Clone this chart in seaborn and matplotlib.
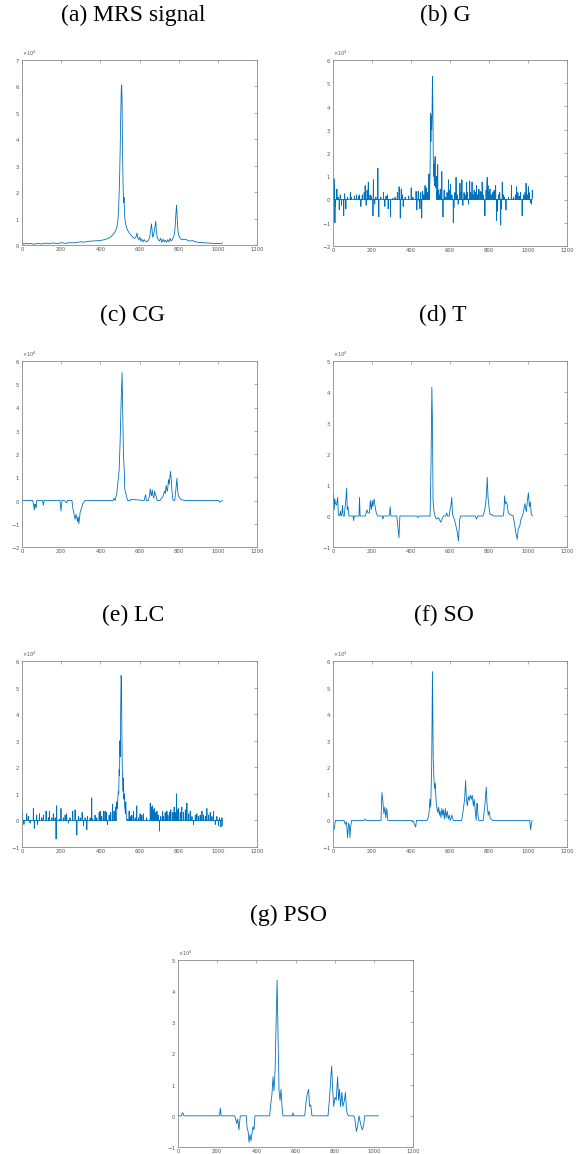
import numpy as np
import pandas as pd
import matplotlib
matplotlib.use("Agg")
import matplotlib.pyplot as plt
from matplotlib.ticker import ScalarFormatter, MultipleLocator
import seaborn as sns

# ---------------- data (values in units of 1e4) -------------
titles = ["(a) MRS signal", "(b) G", "(c) CG", "(d) T", "(e) LC", "(f) SO", "(g) PSO"]
ylims = [(0, 7), (-2, 6), (-2, 6), (-1, 5), (-1, 6), (-1, 6), (-1, 5)]
xticks = [0, 200, 400, 600, 800, 1000, 1200]

# (a) MRS signal: vertices
mrs_x = [1, 10, 20, 30, 45, 60, 80, 100, 120, 140, 160, 180, 200, 220, 240, 260, 280, 300,
         320, 340, 360, 380, 400, 420, 440, 455, 465, 475, 484, 490, 494, 498, 501, 504, 507,
         509, 511, 513, 516, 519, 521, 524, 528, 534, 540, 548, 556, 565, 575, 582, 587, 592,
         597, 602, 607, 612, 618, 624, 630, 638, 646, 652, 657, 661, 664, 667, 671, 676, 680,
         683, 686, 690, 696, 702, 708, 714, 720, 726, 732, 738, 744, 750, 756, 762, 768, 774,
         779, 783, 786, 789, 791, 794, 797, 801, 806, 812, 820, 830, 840, 850, 860, 870, 880,
         890, 900, 920, 940, 960, 980, 1000, 1012, 1024]
mrs_y = [0.08, 0.03, 0.07, 0.04, 0.06, 0.03, 0.06, 0.04, 0.07, 0.05, 0.08, 0.05, 0.09, 0.06,
         0.09, 0.08, 0.1, 0.12, 0.11, 0.14, 0.15, 0.16, 0.17, 0.2, 0.25, 0.32, 0.4, 0.5, 0.65,
         0.95, 1.5, 2.4, 3.5, 4.8, 5.9, 6.05, 5.4, 3.8, 2.3, 1.6, 1.8, 1.1, 0.85, 0.65, 0.55,
         0.45, 0.38, 0.3, 0.25, 0.3, 0.45, 0.25, 0.2, 0.3, 0.15, 0.22, 0.12, 0.2, 0.15, 0.12,
         0.18, 0.3, 0.55, 0.8, 0.6, 0.3, 0.35, 0.55, 0.75, 0.9, 0.55, 0.3, 0.2, 0.15, 0.25, 0.1,
         0.22, 0.12, 0.18, 0.1, 0.2, 0.12, 0.25, 0.15, 0.22, 0.3, 0.45, 0.8, 1.2, 1.5, 1.3, 0.8,
         0.5, 0.35, 0.28, 0.22, 0.2, 0.22, 0.2, 0.16, 0.15, 0.17, 0.13, 0.12, 0.1, 0.09, 0.08,
         0.07, 0.06, 0.06, 0.05, 0.08]

# (b) G: spike positions and heights (baseline 0 between them)
g_pos = [5, 7, 10, 13, 20, 26, 32, 37, 44, 55, 60, 66, 75, 89, 95, 110, 120, 130, 136, 143,
         150, 160, 165, 170, 175, 181, 190, 197, 205, 207, 214, 220, 230, 235, 245, 259, 266,
         272, 279, 283, 295, 305, 318, 330, 339, 345, 350, 355, 360, 370, 388, 401, 410, 426,
         430, 437, 442, 446, 450, 455, 460, 466, 472, 478, 485, 492, 496, 498, 500, 502, 504,
         506, 508, 510, 512, 514, 516, 518, 520, 522, 524, 526, 528, 530, 533, 537, 540, 545,
         550, 558, 564, 570, 578, 585, 592, 597, 603, 610, 617, 620, 625, 631, 637, 642, 651,
         656, 661, 666, 672, 678, 685, 690, 695, 701, 706, 713, 718, 724, 730, 736, 742, 748,
         755, 760, 765, 770, 779, 785, 789, 791, 795, 800, 805, 812, 820, 826, 834, 839, 844,
         850, 855, 860, 864, 868, 875, 880, 887, 900, 915, 925, 935, 941, 948, 955, 962, 970,
         978, 985, 990, 996, 1002, 1006, 1012, 1018, 1022, 1024]
g_val = [0.9, 0.3, -1.0, -0.3, 0.45, 0.1, -0.45, 0.2, -0.25, -0.7, 0.25, -0.4, 0.1, 0.3, 0.1,
         0.15, 0.2, 0.15, 0.2, -0.3, 0.2, 0.3, 0.6, -0.25, 0.4, 0.75, 0.2, 0.15, -0.7, 0.85,
         -0.2, 0.1, 1.35, -0.75, 0.1, 0.3, -0.3, 0.15, 0.2, -0.4, -0.75, 0.05, 0.1, 0.3, 0.55,
         -0.8, 0.45, 0.2, -0.3, 0.1, 0.15, 0.5, 0.1, 0.35, -0.45, 0.35, -0.1, -0.4, 0.3, -0.8,
         0.35, 0.2, 0.6, 0.5, 0.3, 1.1, 0.6, 1.2, 3.7, 2.5, 3.6, 3.0, 3.8, 5.3, 4.2, 2.0, 1.0,
         1.5, 0.6, 1.6, 1.85, 0.9, 0.5, 1.0, 0.3, 1.5, 0.4, 0.2, 0.45, 1.2, -0.75, 0.4, 0.1,
         0.3, 0.85, 0.4, 0.65, 0.2, -1.0, -0.35, 0.3, 0.95, 0.2, -0.2, 0.7, 0.3, 0.85, -0.25,
         0.3, 0.2, 0.75, 0.3, -0.2, 0.8, 0.3, 0.75, 0.2, 0.4, 0.3, 0.6, 0.2, 0.45, 0.35, 0.3,
         0.75, 0.2, -0.7, 0.4, 0.7, 0.95, 0.6, 0.3, 0.45, 0.2, 0.3, 0.4, 0.6, -0.9, -0.5, 0.2,
         0.3, -1.1, -0.4, 0.75, 0.2, 0.1, -0.45, 0.1, 0.6, 0.1, 0.2, 0.55, 0.3, 0.15, 0.3,
         -0.7, 0.2, 0.3, 0.7, 0.2, 0.55, 0.3, -0.15, -0.2, 0.4, 0.1]

# (c) CG: vertices
cg_x = [1, 55, 60, 63, 66, 69, 72, 75, 105, 109, 113, 194, 199, 204, 215, 228, 232, 255, 259,
        265, 271, 276, 280, 283, 287, 290, 294, 297, 301, 305, 310, 314, 322, 465, 470, 475,
        484, 490, 496, 501, 506, 511, 514, 518, 522, 525, 529, 532, 539, 552, 556, 624, 628,
        631, 635, 645, 651, 655, 658, 661, 665, 668, 673, 677, 680, 686, 690, 706, 712, 719,
        724, 728, 732, 736, 740, 743, 748, 752, 758, 762, 765, 770, 774, 780, 786, 791, 795,
        799, 810, 830, 1004, 1010, 1016, 1024]
cg_y = [0, 0, -0.25, -0.4, -0.15, -0.2, -0.3, 0, 0, -0.2, 0, 0, -0.45, 0, 0, -0.1, 0, 0, -0.3,
        -0.55, -0.8, -0.6, -0.75, -0.9, -0.7, -1.0, -0.75, -0.5, -0.4, -0.3, -0.15, -0.1, 0, 0,
        0.1, 0, 0.3, 0.8, 1.3, 2.5, 4.2, 5.5, 4.0, 2.0, 1.3, 0.5, 0.3, 0.25, 0, 0, 0.05, 0, 0.15,
        0.25, 0, 0, 0.2, 0.5, 0.3, 0.2, 0.45, 0.25, 0.1, 0.4, 0.3, 0.15, 0, 0, 0.1, 0.15, 0.3,
        0.4, 0.3, 0.65, 0.45, 0.4, 0.9, 0.7, 1.25, 0.9, 0.5, 0.05, 0, 0, 0.5, 0.95, 0.4, 0.2,
        0.05, 0, 0, -0.08, -0.03, 0]

# (d) T: vertices
t_x = [1, 3, 6, 9, 13, 18, 24, 27, 31, 36, 38, 41, 46, 49, 52, 58, 62, 65, 70, 73, 77, 82,
       103, 106, 109, 133, 136, 139, 165, 170, 174, 179, 187, 191, 196, 201, 204, 208, 211,
       216, 222, 229, 253, 256, 260, 286, 290, 293, 297, 327, 332, 338, 343, 430, 436, 441,
       498, 503, 507, 510, 513, 518, 520, 525, 531, 541, 552, 559, 566, 578, 583, 587, 596,
       600, 605, 609, 613, 622, 630, 638, 643, 650, 655, 730, 736, 742, 770, 776, 783, 787,
       791, 795, 800, 805, 815, 822, 873, 877, 880, 884, 889, 894, 899, 907, 924, 932, 938,
       945, 950, 957, 964, 971, 976, 980, 984, 989, 992, 996, 1002, 1007, 1012, 1017, 1023]
t_y = [0.65, 0.7, 0.2, 0.55, 0.4, 0.35, 0.6, 0.1, 0, 0.05, 0.15, 0, 0.1, 0.35, 0, 0, 0.3,
       0.45, 0.9, 0.2, 0.3, 0, 0, -0.15, 0, 0, 0.6, 0, 0, 0.1, 0.2, 0.1, 0.1, 0.5, 0.2, 0.5,
       0.3, 0.45, 0.55, 0.3, 0.1, 0, 0, -0.1, 0, 0, 0.05, 0.3, 0, 0, -0.3, -0.7, 0, 0, -0.05,
       0, 0, 1.8, 4.15, 3.0, 0.5, 0.15, 0.1, -0.05, -0.1, -0.05, -0.2, -0.1, 0, 0, 0.1, 0,
       0, 0.2, 0.35, 0.6, 0.05, -0.1, -0.3, -0.55, -0.8, -0.1, 0, 0, -0.1, 0, 0, 0.15, 0.4,
       0.7, 1.25, 0.6, 0.3, 0.05, 0.05, 0, 0, 0.2, 0.65, 0.4, 0.45, 0.35, 0.1, 0.05, 0, -0.3,
       -0.55, -0.75, -0.4, -0.35, -0.1, 0, 0.1, 0.25, 0.4, 0.2, 0.15, 0.45, 0.75, 0.3, 0.45,
       0.05, 0]

# (e) LC: spike positions and heights (peak region sampled every 2 points)
lc_pos = [3, 10, 24, 32, 41, 58, 63, 75, 80, 89, 101, 109, 123, 135, 140, 152, 160, 169, 174,
          177, 191, 199, 211, 220, 228, 237, 245, 259, 271, 280, 288, 297, 307, 314, 322, 331,
          334, 348, 356, 361, 373, 382, 394, 399, 407, 416, 424, 430, 436, 445, 453, 462, 470,
          477, 484, 486, 488, 490, 492, 494, 496, 498, 500, 502, 504, 506, 508, 510, 512, 514,
          516, 518, 520, 522, 524, 526, 528, 530, 532, 534, 540, 547, 552, 561, 569, 578, 586,
          595, 603, 612, 620, 637, 655, 660, 665, 672, 677, 684, 689, 695, 702, 709, 718, 723,
          731, 740, 745, 753, 760, 770, 777, 782, 789, 794, 799, 808, 816, 825, 834, 842, 851,
          859, 868, 876, 885, 893, 902, 910, 919, 927, 936, 944, 953, 961, 970, 978, 987, 995,
          1004, 1009, 1016, 1021, 1024]
lc_val = [0.3, -0.15, 0.25, 0.15, -0.1, 0.45, -0.3, 0.2, -0.15, 0.25, 0.1, 0.2, 0.35, 0.1,
          0.35, 0.1, 0.25, 0.1, -0.7, 0.55, 0.05, 0.45, 0.1, 0.2, 0.25, -0.1, 0.1, 0.35, 0.4,
          -0.55, 0.15, 0.1, 0.3, -0.2, 0.1, -0.35, 0.15, 0.1, 0.85, 0.05, 0.2, 0.1, 0.3, 0.35,
          0.15, 0.35, 0.35, 0.3, -0.15, 0.2, 0.3, 0.6, 0.35, 0.5, 0.7, 0.45, 0.6, 0.9, 1.1, 1.0,
          1.9, 1.7, 3.0, 2.4, 4.2, 5.45, 5.3, 3.2, 2.0, 1.6, 1.1, 1.6, 0.8, 1.0, 0.55, 0.4,
          0.25, 0.7, 0.3, 0.1, 0.05, 0.35, 0.15, 0.2, 0.35, 0.1, 0.55, 0.1, 0.25, 0.2, 0.25,
          0.1, 0.65, 0.5, 0.55, 0.4, 0.45, 0.3, 0.35, 0.2, -0.4, 0.15, 0.35, 0.15, 0.3, 0.35,
          0.2, 0.3, 0.4, 0.3, 0.5, 0.3, 1.0, 0.4, 0.45, 0.3, 0.5, 0.3, 0.4, 0.65, 0.25, 0.35,
          0.15, -0.15, 0.2, 0.25, 0.15, 0.2, 0.35, 0.2, 0.15, 0.45, 0.2, 0.3, 0.15, 0.35,
          -0.15, 0.15, -0.2, 0.1, -0.25, 0.1, -0.2]

# (f) SO: vertices
so_x = [1, 5, 8, 12, 57, 63, 69, 75, 80, 84, 87, 90, 95, 160, 165, 170, 246, 251, 256, 261,
        266, 271, 276, 281, 400, 406, 410, 418, 424, 428, 482, 488, 493, 497, 501, 506, 510,
        514, 518, 521, 525, 528, 532, 537, 542, 546, 549, 554, 558, 563, 566, 571, 576, 580,
        586, 591, 596, 601, 606, 610, 617, 660, 668, 675, 680, 684, 689, 694, 699, 704, 710,
        714, 720, 724, 729, 734, 738, 740, 744, 748, 753, 770, 778, 786, 790, 796, 801, 806,
        811, 818, 1009, 1013, 1017, 1021]
so_y = [-0.3, -0.35, -0.25, 0, 0, -0.15, -0.05, -0.65, -0.1, -0.2, -0.65, -0.3, 0, 0, 0.05,
        0, 0, 1.05, 0.7, 0.25, 0.5, 0.1, 0.45, 0, 0, -0.05, 0, -0.15, -0.25, 0, 0, 0.1, 0.3,
        0.8, 0.5, 2.0, 5.6, 2.3, 1.5, 1.2, 1.4, 0.8, 0.5, 0.3, 0.5, 0.2, 0.35, 0.1, 0.45, 0.2,
        0.4, 0.05, 0.45, 0.1, 0.35, 0.05, 0.2, 0.0, 0.1, 0.2, 0, 0, 0.4, 0.8, 1.5, 0.8, 0.55,
        0.9, 0.75, 0.95, 0.8, 0.95, 0.55, 0.8, 0.4, 0, 0.65, 0.6, 0.15, 0, 0, 0, 0.5, 1.25, 0.6,
        0.2, 0.35, 0.1, 0.05, 0, 0, -0.35, -0.15, 0]

# (g) PSO: vertices
pso_x = [1, 18, 22, 26, 30, 210, 213, 216, 220, 290, 294, 300, 305, 311, 318, 349, 353, 358,
         363, 368, 373, 378, 383, 388, 393, 468, 474, 480, 485, 490, 496, 501, 506, 511, 516,
         521, 526, 531, 536, 584, 587, 590, 647, 655, 660, 667, 672, 678, 684, 766, 774, 781,
         785, 790, 795, 802, 808, 815, 820, 825, 830, 837, 842, 850, 855, 860, 865, 871, 898,
         903, 911, 918, 924, 934, 941, 948, 953, 1024]
pso_y = [0, 0, 0.1, 0.08, 0, 0, 0.05, 0.25, 0, 0, -0.1, -0.25, -0.1, -0.45, 0, 0, -0.4,
         -0.5, -0.85, -0.6, -0.8, -0.55, -0.35, -0.45, 0, 0, 0.4, 0.7, 1.25, 0.8, 1.5, 3.0,
         4.35, 2.5, 0.8, 0.5, 0.85, 0.3, 0, 0, 0.1, 0, 0, 0.5, 0.7, 0.85, 0.3, 0.35, 0, 0, 0.6,
         1.3, 1.6, 0.8, 0.3, 0.6, 0.5, 1.25, 0.5, 0.85, 0.3, 0.75, 0.3, 0.5, 0.75, 0.2, 0.05, 0,
         0, -0.1, -0.5, -0.3, 0, -0.3, -0.45, -0.3, 0, 0]

SCALE = 1e4


def spikes_to_vertices(pos, val):
    """Spikes rise from a zero baseline; adjacent samples (gap <= 2) stay connected."""
    xs, ys = [0], [0.0]
    prev = 0
    for p, v in zip(pos, val):
        if p - prev > 2:
            xs.append(prev + 1); ys.append(0.0)
            xs.append(p - 1); ys.append(0.0)
        xs.append(p); ys.append(v)
        prev = p
    return xs, ys


series = [
    (mrs_x, mrs_y),
    spikes_to_vertices(g_pos, g_val),
    (cg_x, cg_y),
    (t_x, t_y),
    spikes_to_vertices(lc_pos, lc_val),
    (so_x, so_y),
    (pso_x, pso_y),
]

# ---------------- layout ---------------------------------------------------------
W, H = 584, 1154
sns.set_theme(style="white")
plt.rcParams["font.family"] = ["DejaVu Sans"]
plt.rcParams["axes.unicode_minus"] = False
fig = plt.figure(figsize=(W / 100, H / 100), dpi=100)

# (left, right, top, bottom) in pixels; title centre (x, y) in pixels
boxes = [(22, 257, 60, 245), (333, 567, 60, 246),
         (22, 257, 361, 547), (333, 567, 361, 547),
         (22, 257, 661, 847), (333, 567, 661, 847),
         (178, 413, 960, 1147)]
title_pos = [(133, 15), (445, 15), (133, 315), (443, 315), (133, 615), (444, 615), (289, 915)]

line_color = "#0072BD"
spine_color = "#8a8a8a"
tick_color = "#555555"

for i, ((l, r, t, b), (xs, ys)) in enumerate(zip(boxes, series)):
    ax = fig.add_axes([l / W, 1 - b / H, (r - l) / W, (b - t) / H])
    df = pd.DataFrame({"x": xs, "y": np.asarray(ys) * SCALE})
    sns.lineplot(data=df, x="x", y="y", ax=ax, color=line_color, linewidth=0.6,
                 estimator=None, sort=False)
    ax.set_xlim(0, 1200)
    ax.set_ylim(ylims[i][0] * SCALE, ylims[i][1] * SCALE)
    ax.set_xticks(xticks)
    ax.yaxis.set_major_locator(MultipleLocator(SCALE))
    fmt = ScalarFormatter(useMathText=True)
    fmt.set_powerlimits((0, 0))
    ax.yaxis.set_major_formatter(fmt)
    ax.yaxis.get_offset_text().set_fontsize(3.6)
    ax.yaxis.get_offset_text().set_color(tick_color)
    ax.set_xlabel("")
    ax.set_ylabel("")
    ax.tick_params(axis="both", which="both", direction="in", length=2.5, width=0.5,
                   labelsize=3.8, colors=spine_color, labelcolor=tick_color, pad=1.5,
                   top=True, right=True)
    for s in ax.spines.values():
        s.set_color(spine_color)
        s.set_linewidth(0.6)
        s.set_visible(True)
    ax.grid(False)
    ax.set_facecolor("white")
    tx, ty = title_pos[i]
    fig.text(tx / W, 1 - ty / H, titles[i], ha="center", va="center",
             fontsize=17, family=["Liberation Serif", "DejaVu Serif"], color="black")

fig.savefig("out.png", dpi=100, facecolor="white")
